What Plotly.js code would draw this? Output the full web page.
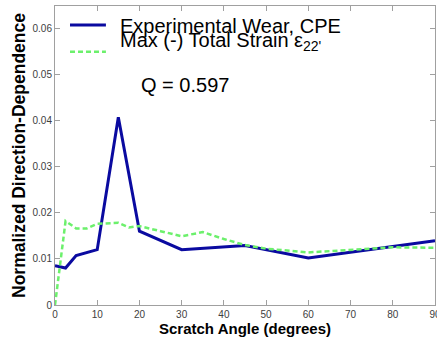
<!DOCTYPE html>
<html>
<head>
<meta charset="utf-8">
<script src="https://cdn.plot.ly/plotly-3.0.1.min.js"></script>
<style>html,body{margin:0;padding:0;background:#fff;}#chart{width:437px;height:344px;}</style>
</head>
<body>
<div id="chart"></div>
<script>
const wearAngles = [0, 2.5, 5, 10, 15, 20, 30, 45, 60, 90];
const wearValues = [0.0085, 0.008, 0.0107, 0.012, 0.0407, 0.016, 0.012, 0.0129, 0.0102, 0.0139];
const strainAngles = [0, 2.5, 5, 7.5, 10, 15, 17.5, 20, 25, 30, 35, 40, 45, 50, 60, 70, 80, 90];
const strainValues = [0, 0.0182, 0.0166, 0.0166, 0.0176, 0.0178, 0.0168, 0.0171, 0.016, 0.0149, 0.0158, 0.0143, 0.013, 0.0122, 0.0114, 0.0119, 0.0125, 0.0124];
const xTicks = [0, 10, 20, 30, 40, 50, 60, 70, 80, 90];
const yTicks = [0, 0.01, 0.02, 0.03, 0.04, 0.05, 0.06];
const seriesNames = ["Experimental Wear, CPE", "Max (-) Total Strain \u03b5<sub>22'</sub>"];
const noteText = "Q = 0.597";

const wearColor = '#0a0aa0';
const strainColor = '#6cf06c';
const strainDash = '5px,3px';

const traces = [
  {x: wearAngles, y: wearValues, name: seriesNames[0], mode: 'lines',
   line: {color: wearColor, width: 3}},
  {x: strainAngles, y: strainValues, name: seriesNames[1], mode: 'lines',
   line: {color: strainColor, width: 2.5, dash: strainDash}}
];

const axisCommon = {
  showgrid: false, zeroline: false, showline: true, mirror: 'ticks',
  linecolor: '#a0a0a0', linewidth: 1, ticks: 'inside', ticklen: 5,
  tickcolor: '#a0a0a0', tickfont: {family: 'Arial, Liberation Sans', size: 10, color: '#404040'}
};

const txtFont = {family: 'Arial, Liberation Sans', size: 20, color: '#000'};

const layout = {
  width: 437, height: 344,
  margin: {l: 55, r: 2, t: 6, b: 39},
  paper_bgcolor: '#fff', plot_bgcolor: '#fff',
  showlegend: false,
  xaxis: Object.assign({}, axisCommon, {
    range: [0, 90], tickvals: xTicks, ticklabeloverflow: 'allow',
    title: {text: 'Scratch Angle (degrees)', standoff: 3,
      font: {family: 'Arial, Liberation Sans', size: 15, color: '#000', weight: 'bold'}}
  }),
  yaxis: Object.assign({}, axisCommon, {
    range: [0, 0.0648], tickvals: yTicks,
    title: {text: 'Normalized Direction-Dependence', standoff: 2,
      font: {family: 'Arial, Liberation Sans', size: 17.5, color: '#000', weight: 'bold'}}
  }),
  shapes: [
    {type: 'line', xref: 'paper', yref: 'paper', x0: 0.0395, x1: 0.134, y0: 0.9365, y1: 0.9365,
     line: {color: wearColor, width: 3}},
    {type: 'line', xref: 'paper', yref: 'paper', x0: 0.0395, x1: 0.134, y0: 0.847, y1: 0.847,
     line: {color: strainColor, width: 2.5, dash: strainDash}}
  ],
  annotations: [
    {text: seriesNames[0], xref: 'paper', yref: 'paper', x: 0.166, y: 0.933,
     xanchor: 'left', yanchor: 'middle', showarrow: false, font: txtFont},
    {text: seriesNames[1], xref: 'paper', yref: 'paper', x: 0.166, y: 0.88,
     xanchor: 'left', yanchor: 'middle', showarrow: false, font: txtFont},
    {text: noteText, xref: 'paper', yref: 'paper', x: 0.221, y: 0.736,
     xanchor: 'left', yanchor: 'middle', showarrow: false, font: txtFont}
  ]
};

Plotly.newPlot('chart', traces, layout, {displayModeBar: false, staticPlot: true});
</script>
</body>
</html>
